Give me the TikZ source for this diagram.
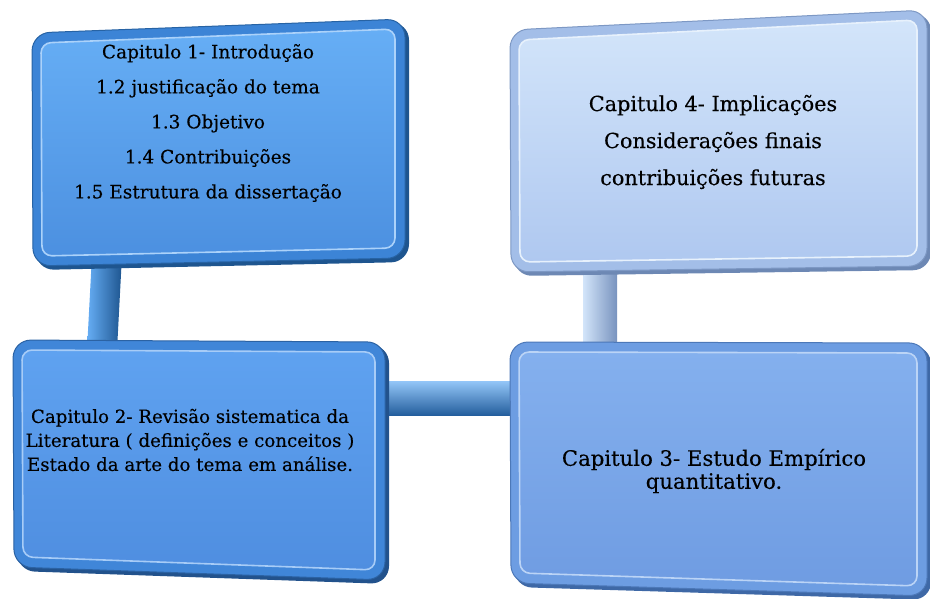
\documentclass[tikz,border=0pt]{standalone}
\usepackage{fontspec}
\setmainfont[FakeBold=0.25]{DejaVu Serif}
\usetikzlibrary{calc}
\definecolor{rimA}{HTML}{3C84D6}
\definecolor{shA}{HTML}{1E558F}
\definecolor{topA}{HTML}{66AEF5}
\definecolor{botA}{HTML}{4C90E0}
\definecolor{rimB}{HTML}{A3BEE8}
\definecolor{shB}{HTML}{6D88B4}
\definecolor{topB}{HTML}{D3E5FA}
\definecolor{botB}{HTML}{AFC8F0}
\definecolor{rimC}{HTML}{4086D8}
\definecolor{shC}{HTML}{22528C}
\definecolor{topC}{HTML}{5FA2F0}
\definecolor{botC}{HTML}{4F8EE0}
\definecolor{rimD}{HTML}{6D9DE2}
\definecolor{shD}{HTML}{3E68A6}
\definecolor{topD}{HTML}{84B0EE}
\definecolor{botD}{HTML}{6F9CE2}
\newcommand{\bevelbox}[8]{%
  \fill[#6, rounded corners=18] ($(#1)+(3,3)$) -- ($(#2)+(4,3)$) -- ($(#3)+(4,4)$) -- ($(#4)+(3,4)$) -- cycle;
  \fill[#5, rounded corners=18] (#1) -- (#2) -- (#3) -- (#4) -- cycle;
  \draw[#6!70!#5, line width=1bp, rounded corners=18] (#1) -- (#2) -- (#3) -- (#4) -- cycle;
  \shade[rounded corners=10, top color=#7, bottom color=#8, draw=white!45!#7, line width=1.6bp]
    ($(#1)+(9,10)$) -- ($(#2)+(-10,10)$) -- ($(#3)+(-10,-10)$) -- ($(#4)+(9,-10)$) -- cycle;
}
\tikzset{
  txt/.style={align=center, text=black, inner sep=0pt},
}
\begin{document}
\begin{tikzpicture}[x=1bp,y=-1bp]
\useasboundingbox (0,0) rectangle (930,599);
% connector end points
\coordinate (c13a) at (107,255);
\coordinate (c13b) at (102,350);
\coordinate (c34a) at (378,398);
\coordinate (c34b) at (518,398);
\coordinate (c42a) at (600,262);
\coordinate (c42b) at (600,350);
% connectors
\shade[left color=topA, right color=shA] ($(c13a)+(-15,0)$) -- ($(c13a)+(15,0)$) -- ($(c13b)+(15,0)$) -- ($(c13b)+(-15,0)$) -- cycle;
\shade[top color=topA!70!white, bottom color=shA!80!rimA] ($(c34a)+(0,-17)$) -- ($(c34b)+(0,-17)$) -- ($(c34b)+(0,17)$) -- ($(c34a)+(0,17)$) -- cycle;
\shade[left color=topB, right color=shB!80!rimB] ($(c42a)+(-17,0)$) -- ($(c42a)+(17,0)$) -- ($(c42b)+(17,0)$) -- ($(c42b)+(-17,0)$) -- cycle;
% boxes
\coordinate (a1) at (32,33); \coordinate (a2) at (405,19); \coordinate (a3) at (405,258); \coordinate (a4) at (33,266);
\bevelbox{a1}{a2}{a3}{a4}{rimA}{shA}{topA}{botA}
\coordinate (d1) at (510,30); \coordinate (d2) at (927,10); \coordinate (d3) at (927,266); \coordinate (d4) at (511,272);
\bevelbox{d1}{d2}{d3}{d4}{rimB}{shB}{topB}{botB}
\coordinate (e1) at (13,340); \coordinate (e2) at (385,342); \coordinate (e3) at (385,580); \coordinate (e4) at (14,567);
\bevelbox{e1}{e2}{e3}{e4}{rimC}{shC}{topC}{botC}
\coordinate (f1) at (510,342); \coordinate (f2) at (927,343); \coordinate (f3) at (927,596); \coordinate (f4) at (511,583);
\bevelbox{f1}{f2}{f3}{f4}{rimD}{shD}{topD}{botD}
% texts
\node[txt, font=\fontsize{18.5bp}{35bp}\selectfont] (b1) at (208,123)
  {Capitulo 1- Introdução\\1.2 justificação do tema\\1.3 Objetivo\\1.4 Contribuições\\1.5 Estrutura da dissertação};
\node[txt, font=\fontsize{20.8bp}{37bp}\selectfont] (b4) at (713,142)
  {Capitulo 4- Implicações\\Considerações finais\\contribuições futuras};
\node[txt, font=\fontsize{18.2bp}{24bp}\selectfont] (b2) at (190,440)
  {Capitulo 2- Revisão sistematica da\\Literatura ( definições e conceitos )\\Estado da arte do tema em análise.};
\node[txt, font=\fontsize{21.2bp}{23bp}\selectfont] (b3) at (714,471)
  {Capitulo 3- Estudo Empírico\\quantitativo.};
\end{tikzpicture}
\end{document}
